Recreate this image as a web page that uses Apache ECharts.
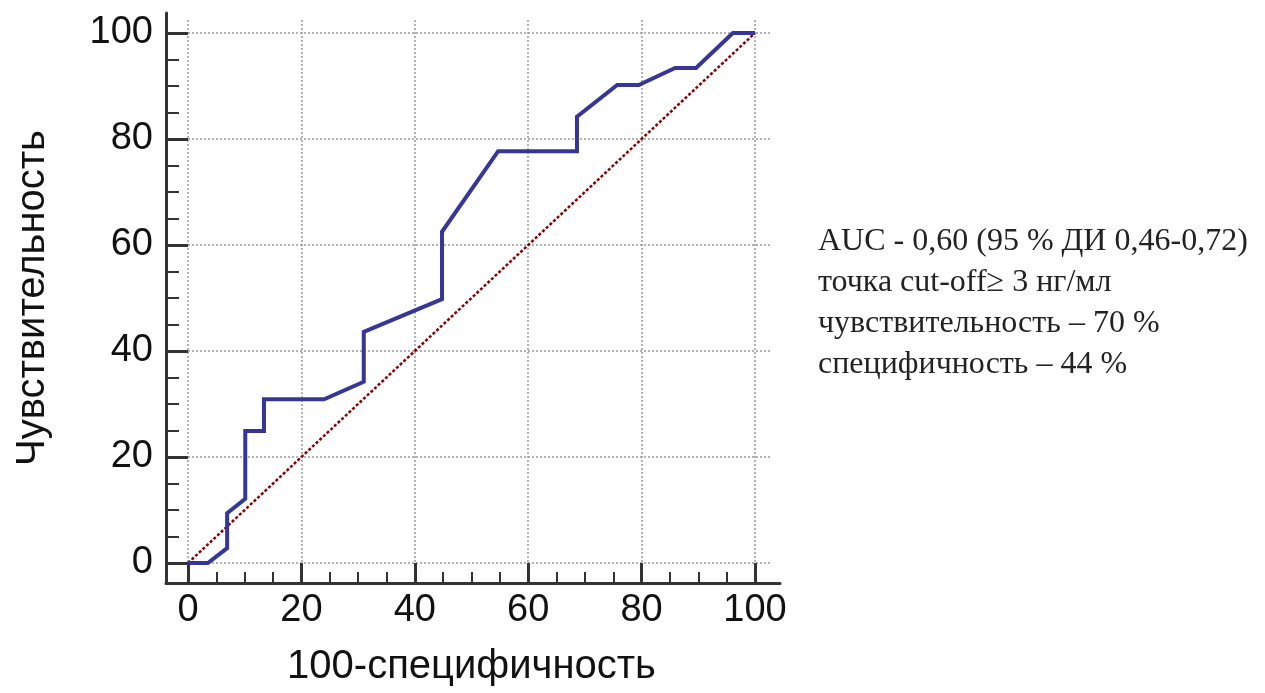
<!DOCTYPE html>
<html>
<head>
<meta charset="utf-8">
<script src="https://cdn.jsdelivr.net/npm/echarts@6/dist/echarts.min.js"></script>
<style>
  html, body { margin: 0; padding: 0; background: #fff; }
  #chart { width: 1265px; height: 693px; }
</style>
</head>
<body>
<div id="chart"></div>
<script>
// ROC curve points (100-specificity, sensitivity)
var rocX = [0, 3.5, 6.9, 6.9, 10.1, 10.1, 13.4, 13.4, 24.0, 31.0, 31.0, 44.8, 44.8, 54.7, 68.6, 68.6, 75.7, 79.5, 85.9, 89.6, 96.1, 100];
var rocY = [0, 0, 2.8, 9.4, 12.1, 24.9, 24.9, 30.9, 30.9, 34.2, 43.6, 49.8, 62.5, 77.7, 77.7, 84.2, 90.2, 90.2, 93.4, 93.4, 100, 100];
// reference diagonal
var diagX = [0, 100];
var diagY = [0, 100];

var xName = '100-специфичность';
var yName = 'Чувствительность';
var noteLines = [
  'AUC - 0,60 (95 % ДИ 0,46-0,72)',
  'точка cut-off≥ 3 нг/мл',
  'чувствительность – 70 %',
  'специфичность – 44 %'
];

function pairs(xs, ys) {
  var out = [];
  for (var i = 0; i < xs.length; i++) out.push([xs[i], ys[i]]);
  return out;
}

var axisColor = '#333';
var nameFont = { fontFamily: 'Liberation Sans', fontSize: 40, color: '#111' };
var tickFont = { fontFamily: 'Liberation Sans', fontSize: 38, color: '#111' };
var hidden = { axisLine: { show: false }, axisTick: { show: false }, axisLabel: { show: false }, splitLine: { show: false } };

function hiddenAxis(gi, max) {
  return Object.assign({ gridIndex: gi, type: 'value', min: 0, max: max }, hidden);
}

var mychar = echarts.init(document.getElementById('chart'));
mychar.setOption({
  animation: false,
  backgroundColor: '#fff',
  grid: [
    // 0: dotted grid, a little wider than the data range
    { left: 188, top: 20, width: 582, height: 543 },
    // 1: data area
    { left: 188, top: 33, width: 567, height: 530 },
    // 2: long axis lines
    { left: 166, top: 13, width: 614, height: 570 },
    // 3: x ticks/labels, same x mapping, bottom edge on the axis line
    { left: 188, top: 53, width: 567, height: 530 },
    // 4: y ticks/labels, same y mapping, left edge on the axis line
    { left: 167, top: 33, width: 588, height: 530 }
  ],
  xAxis: [
    {
      gridIndex: 0, type: 'value', min: 0, max: 102.65, interval: 20,
      axisLine: { show: false }, axisTick: { show: false }, axisLabel: { show: false },
      splitLine: { show: true, showMaxLine: false, lineStyle: { color: '#999', type: [2, 2], width: 1.5 } }
    },
    hiddenAxis(1, 100),
    {
      gridIndex: 2, type: 'value', min: 0, max: 1,
      axisLine: { show: true, onZero: false, lineStyle: { color: axisColor, width: 3 } },
      axisTick: { show: false }, axisLabel: { show: false }, splitLine: { show: false }
    },
    {
      gridIndex: 3, type: 'value', min: 0, max: 100, interval: 20,
      name: xName, nameLocation: 'middle', nameGap: 64,
      nameTextStyle: nameFont,
      axisLine: { show: false, onZero: false },
      axisTick: { show: true, inside: true, length: 20, lineStyle: { color: axisColor, width: 3 } },
      minorTick: { show: true, splitNumber: 4, length: 11, lineStyle: { color: axisColor, width: 2 } },
      axisLabel: Object.assign({ margin: 9 }, tickFont),
      splitLine: { show: false }
    },
    hiddenAxis(4, 100)
  ],
  yAxis: [
    {
      gridIndex: 0, type: 'value', min: 0, max: 102.45, interval: 20,
      axisLine: { show: false }, axisTick: { show: false }, axisLabel: { show: false },
      splitLine: { show: true, showMaxLine: false, lineStyle: { color: '#999', type: [2, 2], width: 1.5 } }
    },
    hiddenAxis(1, 100),
    {
      gridIndex: 2, type: 'value', min: 0, max: 1,
      axisLine: { show: true, onZero: false, lineStyle: { color: axisColor, width: 3 } },
      axisTick: { show: false }, axisLabel: { show: false }, splitLine: { show: false }
    },
    hiddenAxis(3, 100),
    {
      gridIndex: 4, type: 'value', min: 0, max: 100, interval: 20,
      name: yName, nameLocation: 'middle', nameGap: 114, nameRotate: 90,
      nameTextStyle: nameFont,
      axisLine: { show: false, onZero: false },
      axisTick: { show: true, inside: true, length: 21, lineStyle: { color: axisColor, width: 3 } },
      minorTick: { show: true, splitNumber: 4, length: 12, lineStyle: { color: axisColor, width: 2 } },
      axisLabel: Object.assign({ margin: 14 }, tickFont),
      splitLine: { show: false }
    }
  ],
  series: [
    {
      type: 'line', xAxisIndex: 1, yAxisIndex: 1,
      data: pairs(diagX, diagY),
      showSymbol: false, silent: true,
      lineStyle: { color: '#8b0000', width: 2.5, type: [3, 2] }
    },
    {
      type: 'line', xAxisIndex: 1, yAxisIndex: 1,
      data: pairs(rocX, rocY),
      showSymbol: false, silent: true,
      lineStyle: { color: '#363699', width: 4, join: 'miter' }
    }
  ],
  graphic: [{
    type: 'text',
    left: 818,
    top: 221,
    style: {
      text: noteLines.join('\n'),
      font: '32px "Liberation Serif"',
      fill: '#222',
      lineHeight: 41
    }
  }]
});
</script>
</body>
</html>
